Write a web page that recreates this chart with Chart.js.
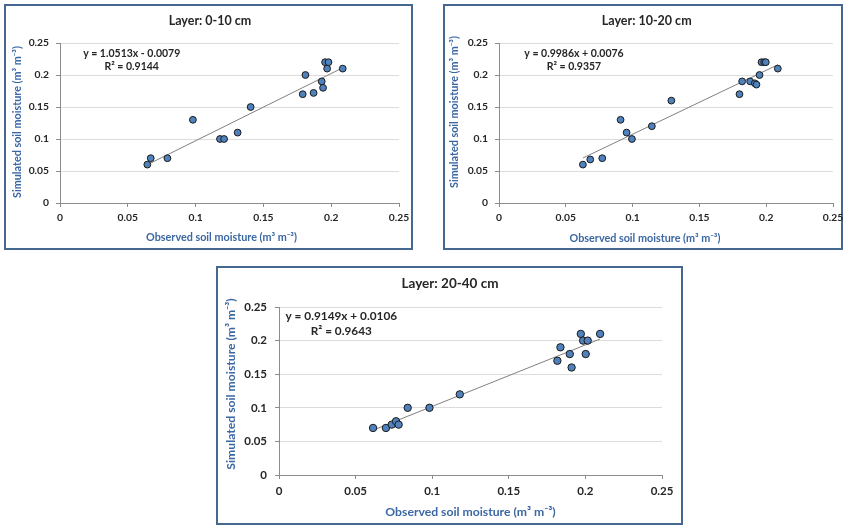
<!DOCTYPE html>
<html>
<head>
<meta charset="utf-8">
<script src="https://cdn.jsdelivr.net/npm/chart.js@4/dist/chart.umd.min.js"></script>
<style>
  body { margin: 0; background: #fff; }
  .box { position: absolute; box-sizing: border-box; border: 2px solid #46678f; background: #fff; }
  canvas { position: absolute; left: 0; top: 0; }
</style>
</head>
<body>
<div class="box" style="left:4px;top:4px;width:409px;height:246px"></div>
<div class="box" style="left:443px;top:4px;width:400px;height:246px"></div>
<div class="box" style="left:216px;top:266px;width:467px;height:259px"></div>
<canvas id="c1" width="844" height="527"></canvas>
<canvas id="c2" width="844" height="527"></canvas>
<canvas id="c3" width="844" height="527"></canvas>
<script>
// observed vs simulated soil moisture, one pair per layer
const layers = ['Layer: 0-10 cm', 'Layer: 10-20 cm', 'Layer: 20-40 cm']

const obs1 = [0.0644, 0.0669, 0.0792, 0.098, 0.118, 0.121, 0.131, 0.1406, 0.179, 0.181, 0.187, 0.193, 0.194, 0.1955, 0.197, 0.198, 0.2085]
const sim1 = [0.06, 0.07, 0.07, 0.13, 0.10, 0.10, 0.11, 0.15, 0.17, 0.20, 0.172, 0.19, 0.18, 0.22, 0.21, 0.22, 0.21]

const obs2 = [0.0628, 0.0683, 0.0773, 0.091, 0.0955, 0.0995, 0.1144, 0.129, 0.180, 0.182, 0.188, 0.1915, 0.1927, 0.195, 0.1965, 0.1985, 0.1997, 0.2087]
const sim2 = [0.06, 0.068, 0.07, 0.13, 0.11, 0.10, 0.12, 0.16, 0.17, 0.19, 0.19, 0.187, 0.185, 0.20, 0.22, 0.22, 0.22, 0.21]

const obs3 = [0.0614, 0.0698, 0.0736, 0.0764, 0.0781, 0.084, 0.0982, 0.118, 0.1817, 0.1837, 0.1898, 0.191, 0.197, 0.1985, 0.2002, 0.2015, 0.2096]
const sim3 = [0.07, 0.07, 0.075, 0.08, 0.075, 0.10, 0.10, 0.12, 0.17, 0.19, 0.18, 0.16, 0.21, 0.20, 0.18, 0.20, 0.21]

// trendline equations as printed on the charts
const slopes = [1.0513, 0.9986, 0.9149]
const intercepts = [-0.0079, 0.0076, 0.0106]
const equations = ['y = 1.0513x - 0.0079', 'y = 0.9986x + 0.0076', 'y = 0.9149x + 0.0106']
const rSquared = ['R² = 0.9144', 'R² = 0.9357', 'R² = 0.9643']

const axisTicks = [0, 0.05, 0.1, 0.15, 0.2, 0.25]
const xTitle = 'Observed soil moisture (m³ m⁻³)'
const yTitle = 'Simulated soil moisture (m³ m⁻³)'

const W = 844, H = 527
const Y_W = 50, X_H = 30
const blue = '#3b67a3'

// draws chart title, axis titles and the trendline equation
const textPlugin = {
    id: 'texts',
    afterDraw: (chart, args, o) => {
        const ctx = chart.ctx
        const a = chart.chartArea
        ctx.save()
        ctx.textAlign = 'center'
        ctx.textBaseline = 'middle'

        ctx.fillStyle = '#262626'
        ctx.font = 'bold ' + o.titleSize + 'px Lato'
        ctx.fillText(o.title, o.titleX, o.titleY)

        ctx.font = 'bold ' + o.eqSize + 'px Lato'
        ctx.fillText(o.eq, o.eqX, o.eqY)
        ctx.fillText(o.r2, o.eqX, o.eqY + o.eqGap)

        ctx.fillStyle = blue
        ctx.font = 'bold ' + o.axisSize + 'px Lato'
        ctx.fillText(xTitle, (a.left + a.right) / 2 + o.xdx, o.xTitleY)
        ctx.translate(o.yTitleX, (a.top + a.bottom) / 2 + o.ydy)
        ctx.rotate(-Math.PI / 2)
        ctx.fillText(yTitle, 0, 0)
        ctx.restore()
    }
}

const fixWidth = (scale) => {
    scale.width = Y_W
    scale.paddingTop = 0
    scale.paddingBottom = 0
}
const fixHeight = (scale) => {
    scale.height = X_H
    scale.paddingLeft = 0
    scale.paddingRight = 0
}

const fmt = (v) => String(+v.toFixed(2))

const makeChart = (id, i, obs, sim, area, style) => {
    const points = obs.map((x, k) => ({x: x, y: sim[k]}))
    const xmin = Math.min(...obs), xmax = Math.max(...obs)
    const trend = [xmin, xmax].map(x => ({x: x, y: slopes[i] * x + intercepts[i]}))
    const tickFont = {family: 'Lato', size: style.tickSize, weight: 'bold'}

    return new Chart(document.getElementById(id), {
        type: 'scatter',
        data: {
            datasets: [
                {
                    data: points,
                    pointRadius: style.radius,
                    pointBackgroundColor: '#4f81bd',
                    pointBorderColor: '#1a1a1a',
                    pointBorderWidth: 1
                },
                {
                    data: trend,
                    showLine: true,
                    pointRadius: 0,
                    borderColor: '#808080',
                    borderWidth: 1
                }
            ]
        },
        plugins: [textPlugin],
        options: {
            responsive: false,
            animation: false,
            devicePixelRatio: 1,
            layout: {
                padding: {
                    left: area.l - Y_W,
                    right: W - area.r,
                    top: area.t,
                    bottom: H - area.b - X_H
                }
            },
            scales: {
                x: {
                    type: 'linear',
                    min: axisTicks[0],
                    max: axisTicks[axisTicks.length - 1],
                    afterFit: fixHeight,
                    afterBuildTicks: (s) => { s.ticks = axisTicks.map(v => ({value: v})) },
                    ticks: {color: '#262626', font: tickFont, padding: style.xPad, maxRotation: 0, callback: fmt},
                    grid: {drawOnChartArea: false, drawTicks: true, tickLength: 4, color: '#8c8c8c'},
                    border: {color: '#8c8c8c', width: 1}
                },
                y: {
                    type: 'linear',
                    min: axisTicks[0],
                    max: axisTicks[axisTicks.length - 1],
                    afterFit: fixWidth,
                    afterBuildTicks: (s) => { s.ticks = axisTicks.map(v => ({value: v})) },
                    ticks: {color: '#262626', font: tickFont, padding: style.yPad, callback: fmt},
                    grid: {color: '#dcdcdc', tickColor: '#8c8c8c', drawTicks: true, tickLength: 4},
                    border: {color: '#8c8c8c', width: 1}
                }
            },
            plugins: {
                legend: {display: false},
                tooltip: {enabled: false},
                texts: Object.assign({title: layers[i], eq: equations[i], r2: rSquared[i]}, style.text)
            }
        }
    })
}

makeChart('c1', 0, obs1, sim1, {l: 60, r: 399, t: 43, b: 203},
    {tickSize: 10.3, radius: 3.4, xPad: 4, yPad: 7,
     text: {titleSize: 12.5, titleX: 210, titleY: 21, eqSize: 10.5, eqX: 131.7, eqY: 53.3, eqGap: 13.4,
            axisSize: 10.8, xdx: -8, xTitleY: 238, yTitleX: 18, ydy: -1}})

makeChart('c2', 1, obs2, sim2, {l: 499, r: 833, t: 43, b: 203},
    {tickSize: 10.3, radius: 3.4, xPad: 4, yPad: 7,
     text: {titleSize: 12.5, titleX: 646.7, titleY: 21, eqSize: 10.5, eqX: 574, eqY: 53.3, eqGap: 13.4,
            axisSize: 10.8, xdx: -21, xTitleY: 238.3, yTitleX: 455, ydy: -11}})

makeChart('c3', 2, obs3, sim3, {l: 279, r: 662, t: 307, b: 475},
    {tickSize: 11.5, radius: 3.7, xPad: 5, yPad: 8,
     text: {titleSize: 13.5, titleX: 450, titleY: 283.7, eqSize: 11.8, eqX: 341.3, eqY: 316.3, eqGap: 14.7,
            axisSize: 12.2, xdx: 0, xTitleY: 512, yTitleX: 230.7, ydy: -7}})
</script>
</body>
</html>
